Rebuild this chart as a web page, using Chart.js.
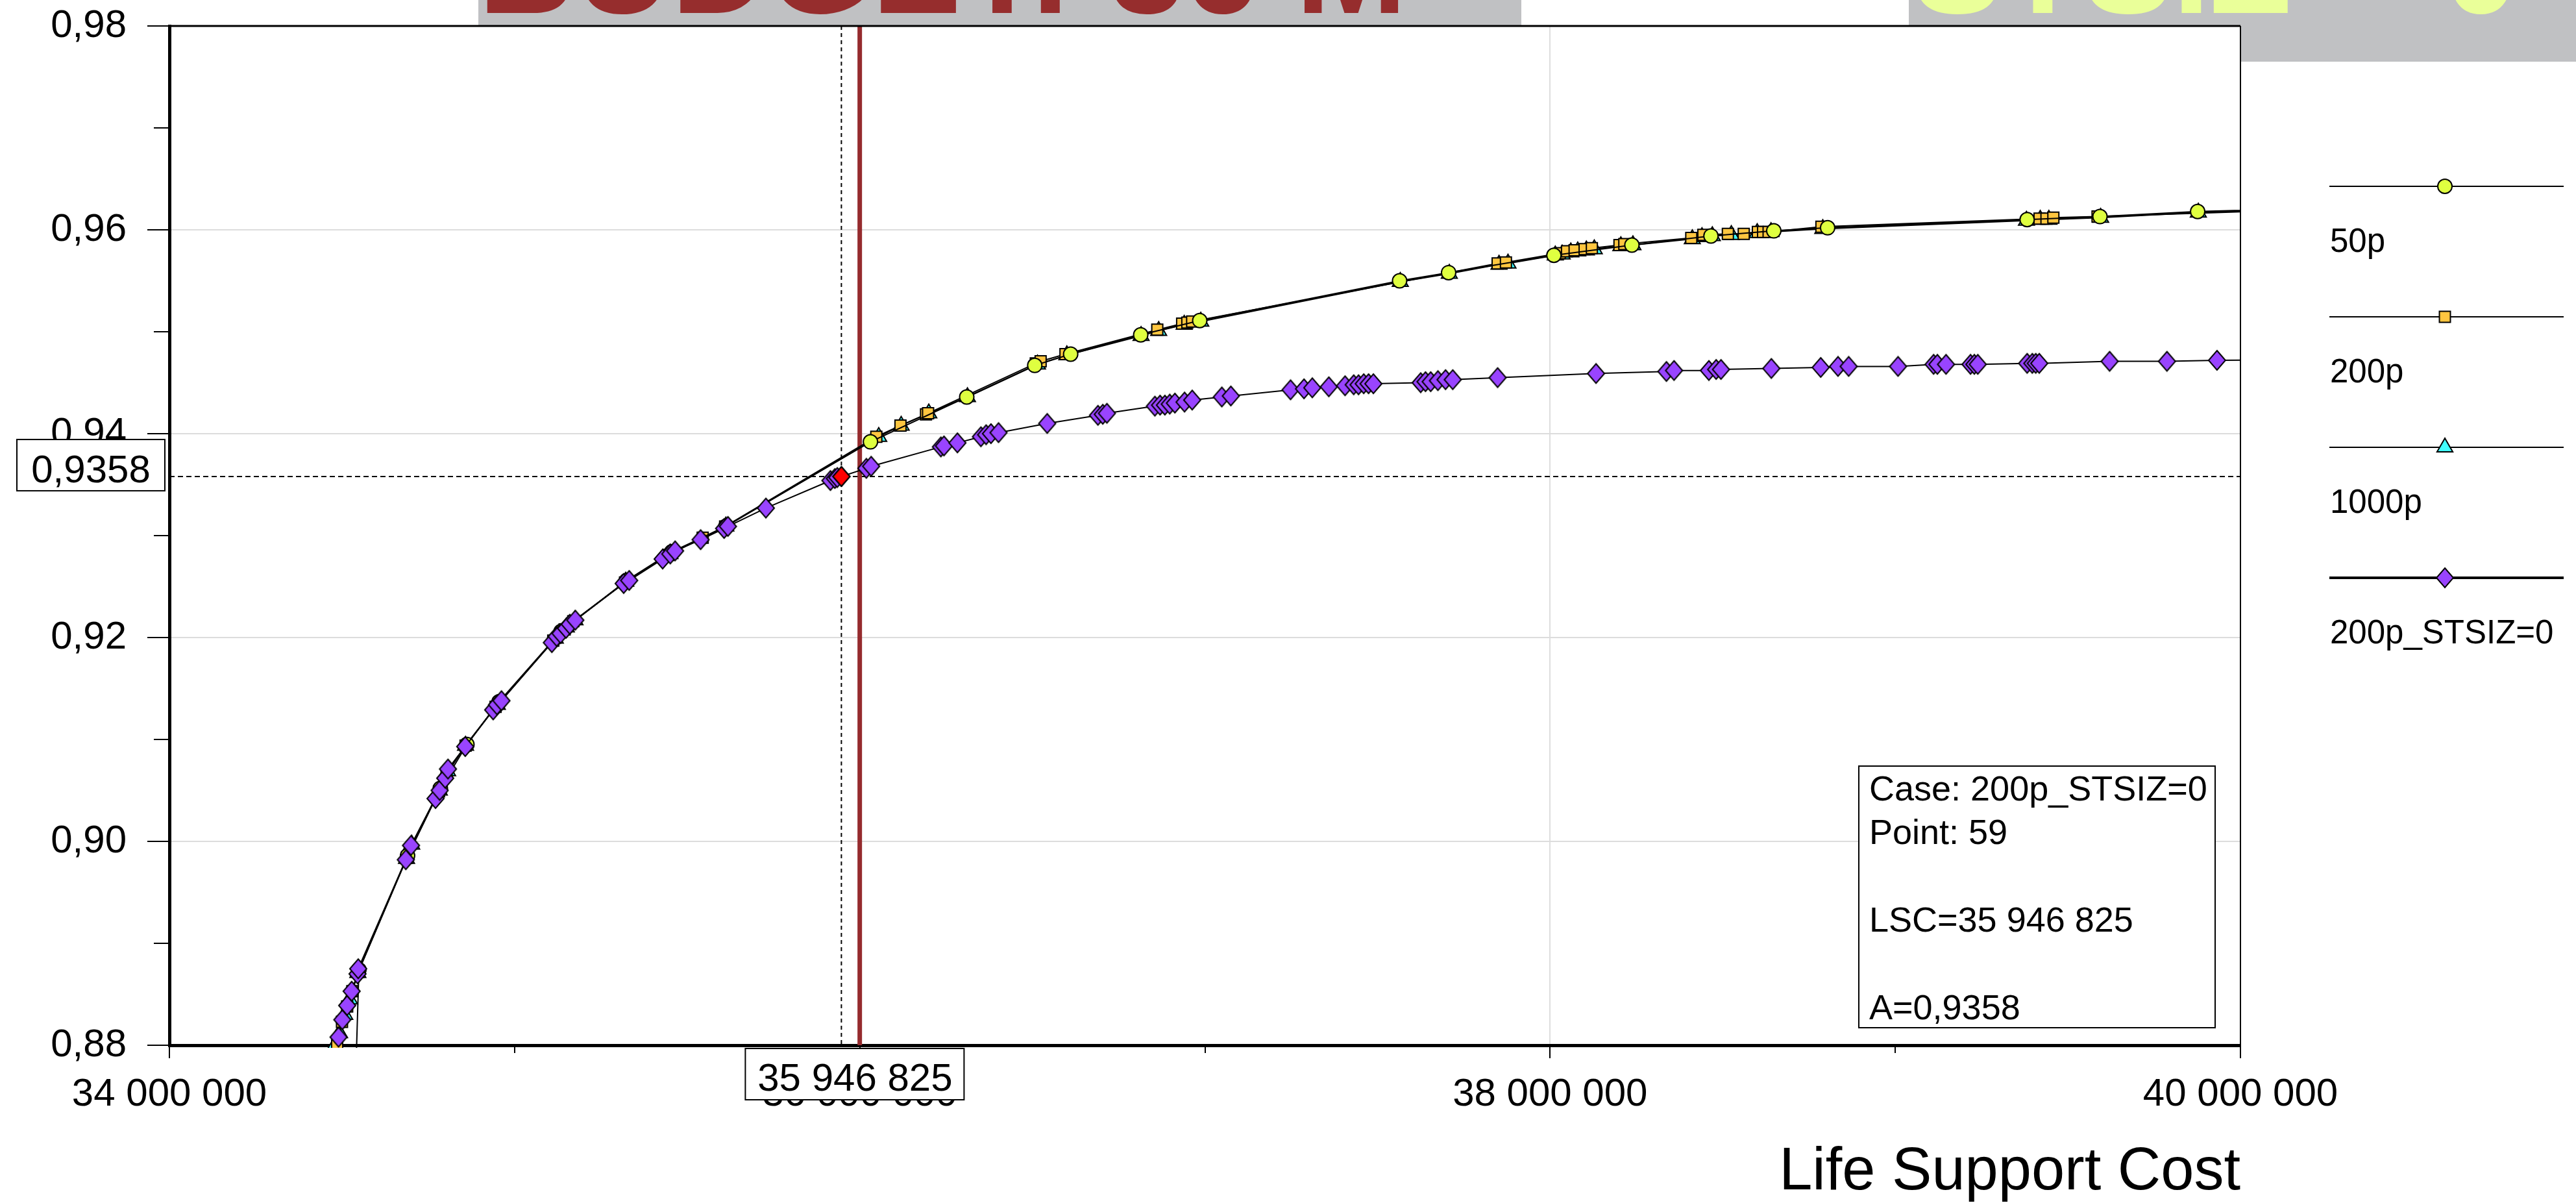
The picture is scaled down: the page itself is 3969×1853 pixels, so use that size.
<!DOCTYPE html>
<html>
<head>
<meta charset="utf-8">
<script src="https://cdn.jsdelivr.net/npm/chart.js@4.4.0/dist/chart.umd.min.js"></script>
<style>
  html, body { margin: 0; padding: 0; background: #fff; }
  canvas { display: block; }
</style>
</head>
<body>
<canvas id="lsc" width="3969" height="1853"></canvas>
<script>
// Life support cost (millions) vs availability, one pair of arrays per case
const cost50p = [34.538, 34.549, 34.690, 34.785, 34.862, 34.955, 35.135, 35.325, 35.455, 35.612,
  36.031, 36.310, 36.507, 36.611, 36.814, 36.985, 37.564, 37.706, 38.011, 38.237,
  38.466, 38.648, 38.804, 39.382, 39.593, 39.876, 40.300];
const avail50p = [0.8750, 0.8874, 0.8986, 0.9052, 0.9095, 0.9137, 0.9206, 0.9256, 0.9284, 0.9309,
  0.9392, 0.9436, 0.9467, 0.9478, 0.9497, 0.9511, 0.9550, 0.9558, 0.9575, 0.9585,
  0.9594, 0.9599, 0.9602, 0.9610, 0.9613, 0.9618, 0.9622];

const cost200p = [34.486, 34.500, 34.515, 34.530, 34.547, 34.688, 34.781, 34.803, 34.858, 34.945,
  35.112, 35.145, 35.170, 35.320, 35.445, 35.545, 35.610, 36.048, 36.118, 36.192,
  36.198, 36.510, 36.524, 36.596, 36.862, 36.934, 36.949, 36.963, 37.848, 37.872,
  38.028, 38.049, 38.071, 38.100, 38.121, 38.201, 38.215, 38.409, 38.444, 38.515,
  38.561, 38.602, 38.617, 38.633, 38.786, 39.418, 39.438, 39.458, 39.586, 40.300];
const avail200p = [0.8800, 0.8823, 0.8838, 0.8853, 0.8872, 0.8984, 0.9049, 0.9066, 0.9094, 0.9132,
  0.9197, 0.9208, 0.9216, 0.9254, 0.9281, 0.9298, 0.9309, 0.9397, 0.9408, 0.9419,
  0.9420, 0.9469, 0.9471, 0.9478, 0.9502, 0.9508, 0.9509, 0.9510, 0.9567, 0.9568,
  0.9577, 0.9579, 0.9580, 0.9581, 0.9582, 0.9585, 0.9586, 0.9592, 0.9595, 0.9596,
  0.9596, 0.9598, 0.9598, 0.9598, 0.9603, 0.9611, 0.9611, 0.9612, 0.9613, 0.9621];

const cost1000p = [34.478, 34.493, 34.508, 34.522, 34.546, 34.687, 34.702, 34.782, 34.806, 34.858,
  34.950, 35.118, 35.150, 35.175, 35.322, 35.450, 35.612, 36.055, 36.120, 36.200,
  36.312, 36.515, 36.600, 36.815, 36.866, 36.940, 36.988, 37.566, 37.708, 37.852,
  37.878, 38.015, 38.035, 38.060, 38.080, 38.105, 38.128, 38.205, 38.240, 38.412,
  38.440, 38.470, 38.525, 38.600, 38.640, 38.790, 39.380, 39.420, 39.445, 39.595,
  39.878, 40.300];
const avail1000p = [0.8799, 0.8812, 0.8830, 0.8845, 0.8871, 0.8983, 0.8997, 0.9050, 0.9069, 0.9094,
  0.9134, 0.9199, 0.9210, 0.9217, 0.9255, 0.9282, 0.9309, 0.9397, 0.9408, 0.9420,
  0.9436, 0.9468, 0.9477, 0.9496, 0.9501, 0.9507, 0.9510, 0.9549, 0.9557, 0.9566,
  0.9567, 0.9575, 0.9576, 0.9578, 0.9579, 0.9580, 0.9581, 0.9584, 0.9585, 0.9591,
  0.9593, 0.9594, 0.9595, 0.9597, 0.9598, 0.9601, 0.9609, 0.9610, 0.9610, 0.9612,
  0.9617, 0.9621];

const costStsiz = [34.490, 34.501, 34.515, 34.528, 34.545, 34.547, 34.685, 34.700, 34.771, 34.783,
  34.799, 34.807, 34.857, 34.938, 34.949, 34.962, 35.108, 35.122, 35.133, 35.149,
  35.160, 35.176, 35.316, 35.332, 35.429, 35.451, 35.465, 35.539, 35.607, 35.618,
  35.728, 35.915, 35.928, 35.935, 36.019, 36.033, 36.235, 36.244, 36.283, 36.351,
  36.366, 36.380, 36.402, 36.543, 36.690, 36.704, 36.716, 36.855, 36.870, 36.884,
  36.898, 36.913, 36.941, 36.963, 37.049, 37.075, 37.248, 37.287, 37.311, 37.359,
  37.406, 37.431, 37.445, 37.460, 37.474, 37.488, 37.625, 37.639, 37.654, 37.675,
  37.697, 37.718, 37.848, 38.133, 38.337, 38.359, 38.460, 38.481, 38.495, 38.641,
  38.784, 38.834, 38.865, 39.008, 39.111, 39.122, 39.147, 39.218, 39.229, 39.239,
  39.382, 39.397, 39.407, 39.417, 39.621, 39.787, 39.932, 40.300];
const availStsiz = [0.8808, 0.8825, 0.8839, 0.8853, 0.8870, 0.8875, 0.8982, 0.8996, 0.9042, 0.9050,
  0.9062, 0.9071, 0.9093, 0.9129, 0.9134, 0.9138, 0.9195, 0.9201, 0.9204, 0.9209,
  0.9213, 0.9217, 0.9253, 0.9256, 0.9277, 0.9282, 0.9285, 0.9296, 0.9307, 0.9309,
  0.9327, 0.9354, 0.9356, 0.9357, 0.9366, 0.9368, 0.9387, 0.9388, 0.9391, 0.9397,
  0.9399, 0.9400, 0.9401, 0.9410, 0.9418, 0.9419, 0.9420, 0.9427, 0.9428, 0.9428,
  0.9429, 0.9430, 0.9431, 0.9433, 0.9436, 0.9437, 0.9443, 0.9444, 0.9445, 0.9446,
  0.9447, 0.9448, 0.9448, 0.9449, 0.9449, 0.9449, 0.9450, 0.9451, 0.9451, 0.9452,
  0.9453, 0.9453, 0.9455, 0.9459, 0.9461, 0.9462, 0.9462, 0.9463, 0.9463, 0.9464,
  0.9465, 0.9466, 0.9466, 0.9466, 0.9468, 0.9468, 0.9468, 0.9468, 0.9468, 0.9468,
  0.9469, 0.9469, 0.9469, 0.9469, 0.9471, 0.9471, 0.9472, 0.9473];

// budget limit and the selected point shown in the info box
const budget = 36000000;
const selectedCase = '200p_STSIZ=0';
const selectedPoint = 59;
const selectedCost = 35946825;
const selectedAvail = 0.9358;

const xMin = 34000000, xMax = 40000000, xStep = 2000000;
const yMin = 0.88, yMax = 0.98, yStep = 0.02;

const FONT = "'Liberation Sans', Arial, sans-serif";
Chart.defaults.font.family = FONT;
Chart.defaults.color = '#000';

function toPoints(costs, avails) {
    return costs.map((c, i) => ({ x: c * 1e6, y: avails[i] }));
}

function spaced(n) {
    return Math.round(n).toString().replace(/\B(?=(\d{3})+(?!\d))/g, ' ');
}

function comma(v, digits) {
    return v.toFixed(digits).replace('.', ',');
}

// a slightly tall diamond marker, like the original plotting tool uses
function makeDiamond(fill) {
    const c = document.createElement('canvas');
    c.width = 30;
    c.height = 34;
    const g = c.getContext('2d');
    g.beginPath();
    g.moveTo(15, 2);
    g.lineTo(28, 17);
    g.lineTo(15, 32);
    g.lineTo(2, 17);
    g.closePath();
    g.fillStyle = fill;
    g.fill();
    g.lineWidth = 2;
    g.strokeStyle = '#000';
    g.stroke();
    return c;
}

const purpleDiamond = makeDiamond('#9944ff');
const redDiamond = makeDiamond('#ff0000');

const stsizPoints = toPoints(costStsiz, availStsiz)
    .concat([{ x: selectedCost, y: selectedAvail }])
    .sort((a, b) => a.x - b.x);

const series = {
    borderColor: '#000',
    borderWidth: 2,
    showLine: true,
    tension: 0,
    pointBorderColor: '#000',
    pointBorderWidth: 2,
    clip: { left: 0, top: 0, right: 0, bottom: 4 }
};

const datasets = [
    {
        label: 'selected',
        data: [{ x: selectedCost, y: selectedAvail }],
        showLine: false,
        pointStyle: redDiamond,
        pointRadius: 14
    },
    Object.assign({}, series, {
        label: '200p_STSIZ=0',
        data: stsizPoints,
        pointStyle: purpleDiamond,
        pointRadius: 14,
        pointBackgroundColor: '#9944ff',
        legendLine: 4
    }),
    Object.assign({}, series, {
        label: '50p',
        data: toPoints(cost50p, avail50p),
        pointStyle: 'circle',
        pointRadius: 11,
        pointBackgroundColor: '#dfff40',
        legendLine: 2
    }),
    Object.assign({}, series, {
        label: '200p',
        data: toPoints(cost200p, avail200p),
        pointStyle: 'rect',
        pointRadius: 12,
        pointBackgroundColor: '#ffc640',
        legendLine: 2
    }),
    Object.assign({}, series, {
        label: '1000p',
        data: toPoints(cost1000p, avail1000p),
        pointStyle: 'triangle',
        pointRadius: 14,
        pointBackgroundColor: '#40ffff',
        legendLine: 2
    })
];

const legendOrder = ['50p', '200p', '1000p', '200p_STSIZ=0'];

const decorations = {
    id: 'decorations',
    beforeDraw(chart) {
        const ctx = chart.ctx;
        const area = chart.chartArea;
        ctx.save();
        // banners behind the plot
        ctx.fillStyle = '#c0c1c3';
        ctx.fillRect(737, 0, 1607, 95);
        ctx.fillRect(2941, 0, 1028, 95);
        ctx.font = 'bold 206px ' + FONT;
        ctx.textBaseline = 'alphabetic';
        ctx.textAlign = 'left';
        ctx.fillStyle = '#962d2d';
        ctx.fillText('BUDGET: ' + budget / 1e6 + ' M', 737, 20);
        ctx.fillStyle = '#eaff99';
        ctx.fillText('STSIZ = 0', 2947, 20);
        ctx.fillStyle = '#fff';
        ctx.fillRect(area.left, area.top, area.right - area.left, area.bottom - area.top);
        ctx.restore();
    },
    beforeDatasetsDraw(chart) {
        const ctx = chart.ctx;
        const area = chart.chartArea;
        const x = chart.scales.x;
        const y = chart.scales.y;
        const px = x.getPixelForValue(selectedCost);
        const py = y.getPixelForValue(selectedAvail);
        const pb = x.getPixelForValue(budget);
        ctx.save();
        ctx.strokeStyle = '#000';
        ctx.lineWidth = 2;
        ctx.setLineDash([8, 5]);
        ctx.beginPath();
        ctx.moveTo(area.left, py);
        ctx.lineTo(area.right, py);
        ctx.stroke();
        ctx.setLineDash([6, 5]);
        ctx.beginPath();
        ctx.moveTo(px, area.top);
        ctx.lineTo(px, area.bottom);
        ctx.stroke();
        ctx.setLineDash([]);
        ctx.strokeStyle = '#952b2e';
        ctx.lineWidth = 7;
        ctx.beginPath();
        ctx.moveTo(pb, area.top);
        ctx.lineTo(pb, area.bottom);
        ctx.stroke();
        ctx.restore();
    },
    afterDraw(chart) {
        const ctx = chart.ctx;
        const area = chart.chartArea;
        const x = chart.scales.x;
        const y = chart.scales.y;
        ctx.save();

        // minor ticks halfway between the labelled ones
        ctx.strokeStyle = '#000';
        ctx.lineWidth = 2;
        ctx.beginPath();
        for (let v = yMin + yStep / 2; v < yMax; v += yStep) {
            const p = Math.round(y.getPixelForValue(v));
            ctx.moveTo(area.left - 24, p);
            ctx.lineTo(area.left, p);
        }
        for (let v = xMin + xStep / 2; v < xMax; v += xStep) {
            const p = Math.round(x.getPixelForValue(v));
            ctx.moveTo(p, area.bottom);
            ctx.lineTo(p, area.bottom + 12);
        }
        ctx.stroke();

        // top and right frame
        ctx.lineWidth = 3;
        ctx.beginPath();
        ctx.moveTo(area.left, area.top);
        ctx.lineTo(area.right, area.top);
        ctx.stroke();
        ctx.lineWidth = 2;
        ctx.beginPath();
        ctx.moveTo(area.right, area.top);
        ctx.lineTo(area.right, area.bottom);
        ctx.stroke();

        // value boxes on the axes
        const px = x.getPixelForValue(selectedCost);
        const py = y.getPixelForValue(selectedAvail);
        ctx.font = '60px ' + FONT;
        ctx.textAlign = 'center';
        ctx.textBaseline = 'alphabetic';
        ctx.lineWidth = 2;

        ctx.fillStyle = '#fff';
        ctx.fillRect(26, py - 57, 228, 79);
        ctx.strokeRect(26, py - 57, 228, 79);
        ctx.fillStyle = '#000';
        ctx.fillText(comma(selectedAvail, 4), 140, py + 9);

        const bx = px - 148;
        const by = area.bottom + 5;
        ctx.fillStyle = '#fff';
        ctx.fillRect(bx, by, 337, 79);
        ctx.strokeRect(bx, by, 337, 79);
        ctx.fillStyle = '#000';
        ctx.fillText(spaced(selectedCost), bx + 169, by + 65);

        // info box
        ctx.fillStyle = '#fff';
        ctx.fillRect(2864, 1180, 549, 403);
        ctx.strokeRect(2864, 1180, 549, 403);
        ctx.fillStyle = '#000';
        ctx.font = '54px ' + FONT;
        ctx.textAlign = 'left';
        const lines = [
            'Case: ' + selectedCase,
            'Point: ' + selectedPoint,
            '',
            'LSC=' + spaced(selectedCost),
            '',
            'A=' + comma(selectedAvail, 4)
        ];
        lines.forEach((t, i) => ctx.fillText(t, 2880, 1233 + i * 67.4));

        // legend
        ctx.font = '51px ' + FONT;
        legendOrder.forEach((name, i) => {
            const ds = chart.data.datasets.find((d) => d.label === name);
            const ly = 287 + i * 201;
            ctx.strokeStyle = '#000';
            ctx.lineWidth = ds.legendLine;
            ctx.beginPath();
            ctx.moveTo(3589, ly);
            ctx.lineTo(3950, ly);
            ctx.stroke();
            ctx.fillStyle = ds.pointBackgroundColor;
            ctx.lineWidth = 2;
            Chart.helpers.drawPoint(ctx, {
                pointStyle: ds.pointStyle,
                radius: ds.pointRadius,
                borderWidth: 2,
                rotation: 0
            }, 3767, ly);
            ctx.fillStyle = '#000';
            ctx.fillText(name, 3590, ly + 101);
        });

        ctx.restore();
    }
};

new Chart(document.getElementById('lsc').getContext('2d'), {
    type: 'scatter',
    data: { datasets: datasets },
    options: {
        responsive: false,
        devicePixelRatio: 1,
        animation: false,
        events: [],
        layout: { padding: { top: 40, right: 517, bottom: 0, left: 0 } },
        plugins: {
            legend: { display: false },
            tooltip: { enabled: false }
        },
        scales: {
            x: {
                type: 'linear',
                min: xMin,
                max: xMax,
                afterFit: (scale) => { scale.height = 243; },
                ticks: {
                    stepSize: xStep,
                    maxRotation: 0,
                    padding: 20,
                    color: '#000',
                    font: { size: 60 },
                    callback: (v) => spaced(v)
                },
                grid: {
                    color: '#dedede',
                    lineWidth: 2,
                    tickLength: 20,
                    tickColor: '#000',
                    tickWidth: 2
                },
                border: { color: '#000', width: 5 },
                title: {
                    display: true,
                    text: 'Life Support Cost',
                    align: 'end',
                    color: '#000',
                    font: { size: 92, lineHeight: 1 },
                    padding: 0
                }
            },
            y: {
                type: 'linear',
                min: yMin,
                max: yMax,
                // keep the plot top pinned to the layout padding
                afterFit: (scale) => {
                    scale.width = 261;
                    scale.paddingTop = 0;
                    scale.paddingBottom = 0;
                },
                ticks: {
                    stepSize: yStep,
                    padding: 32,
                    color: '#000',
                    font: { size: 60 },
                    callback: (v) => comma(v, 2)
                },
                grid: {
                    color: '#dcdcdc',
                    lineWidth: 2,
                    tickLength: 34,
                    tickColor: '#000',
                    tickWidth: 2
                },
                border: { color: '#000', width: 5 }
            }
        }
    },
    plugins: [decorations]
});
</script>
</body>
</html>
